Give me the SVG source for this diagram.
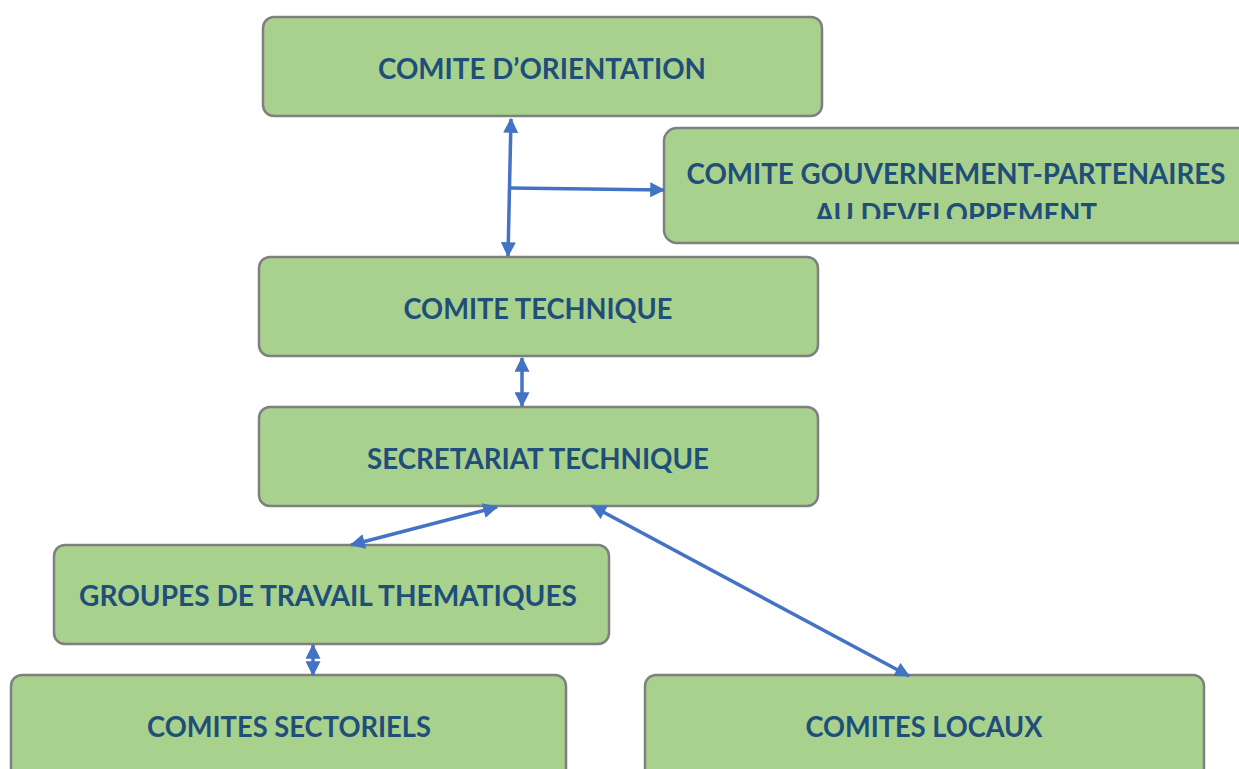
<svg xmlns="http://www.w3.org/2000/svg" width="1239" height="769" viewBox="0 0 1239 769">
<style>
.box{fill:#A9D18E;stroke:#7F7F7F;stroke-width:2.5}
.t{font-family:Lato,"Open Sans","Liberation Sans",sans-serif;font-weight:bold;font-size:29px;fill:#1F4E79;text-anchor:middle}
.c{fill:none;stroke:#4472C4;stroke-width:3.5}
</style>
<defs>
<marker id="ah" viewBox="0 0 12 12" refX="11" refY="6" markerWidth="16" markerHeight="15" markerUnits="userSpaceOnUse" orient="auto-start-reverse">
<path d="M0,0 L12,6 L0,12 Z" fill="#4472C4"/>
</marker>
<clipPath id="clip2"><rect x="664" y="128" width="600" height="91"/></clipPath>
</defs>
<rect width="1239" height="769" fill="#fff"/>
<g id="n1"><rect class="box" x="263" y="17" width="559" height="99" rx="11"/><text class="t" x="542" y="79" textLength="328" lengthAdjust="spacingAndGlyphs">COMITE D’ORIENTATION</text></g>
<g id="n2"><rect class="box" x="664" y="128" width="600" height="115" rx="13"/><g clip-path="url(#clip2)"><text class="t" x="956" y="184" textLength="539" lengthAdjust="spacingAndGlyphs">COMITE GOUVERNEMENT-PARTENAIRES</text><text class="t" x="956" y="224" textLength="282" lengthAdjust="spacingAndGlyphs">AU DEVELOPPEMENT</text></g></g>
<g id="n3"><rect class="box" x="259" y="257" width="559" height="99" rx="11"/><text class="t" x="538" y="319" textLength="269" lengthAdjust="spacingAndGlyphs">COMITE TECHNIQUE</text></g>
<g id="n4"><rect class="box" x="259" y="407" width="559" height="99" rx="11"/><text class="t" x="538" y="469" textLength="342" lengthAdjust="spacingAndGlyphs">SECRETARIAT TECHNIQUE</text></g>
<g id="n5"><rect class="box" x="54" y="545" width="555" height="99" rx="11"/><text class="t" x="328" y="606" textLength="498" lengthAdjust="spacingAndGlyphs">GROUPES DE TRAVAIL THEMATIQUES</text></g>
<g id="n6"><rect class="box" x="11" y="675" width="555" height="110" rx="11"/><text class="t" x="289" y="737" textLength="284" lengthAdjust="spacingAndGlyphs">COMITES SECTORIELS</text></g>
<g id="n7"><rect class="box" x="645" y="675" width="559" height="110" rx="11"/><text class="t" x="924" y="737" textLength="237" lengthAdjust="spacingAndGlyphs">COMITES LOCAUX</text></g>
<g id="connectors">
<line class="c" x1="511" y1="119" x2="508" y2="256" marker-start="url(#ah)" marker-end="url(#ah)"/>
<line class="c" x1="510" y1="188" x2="664" y2="190" marker-end="url(#ah)"/>
<line class="c" x1="522" y1="358" x2="522" y2="406" marker-start="url(#ah)" marker-end="url(#ah)"/>
<line class="c" x1="497" y1="507" x2="351" y2="545" marker-start="url(#ah)" marker-end="url(#ah)"/>
<line class="c" x1="592" y1="506" x2="909" y2="676" marker-start="url(#ah)" marker-end="url(#ah)"/>
<line class="c" x1="313" y1="645" x2="313" y2="675" marker-start="url(#ah)" marker-end="url(#ah)"/>
</g>
</svg>
